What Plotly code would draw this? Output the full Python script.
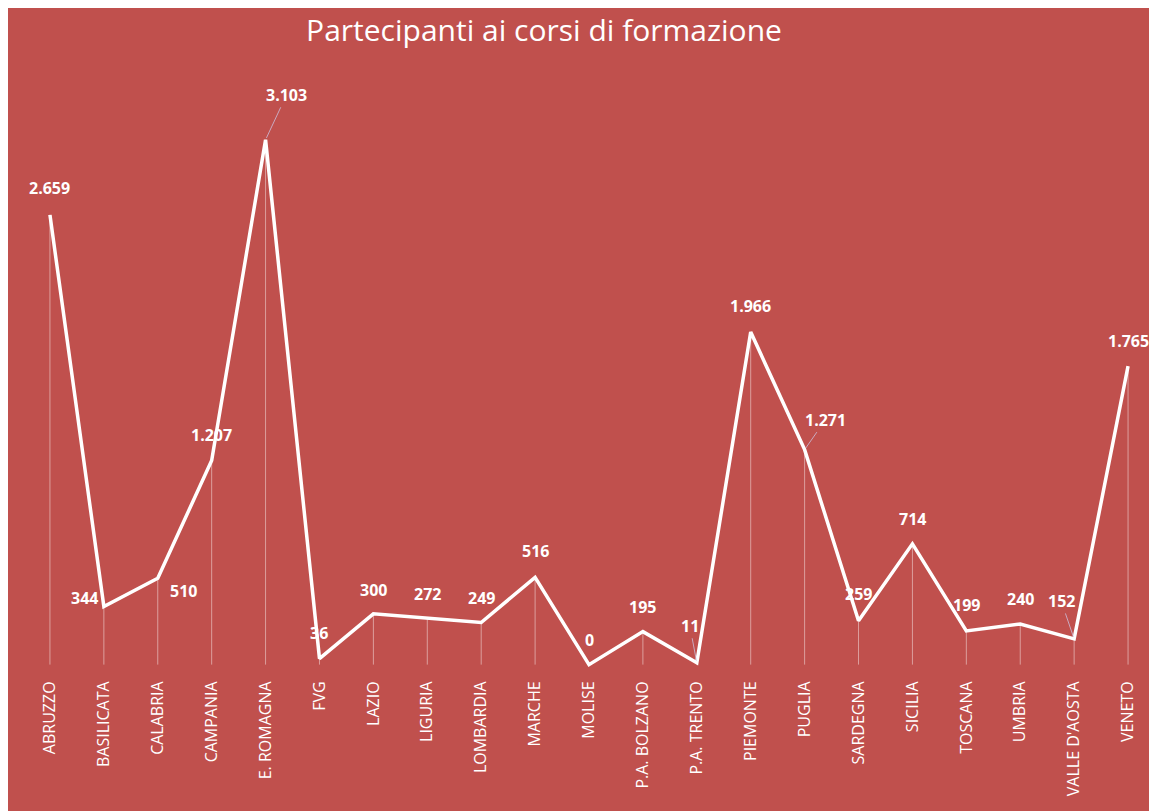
import plotly.graph_objects as go

regions = ["ABRUZZO", "BASILICATA", "CALABRIA", "CAMPANIA", "E. ROMAGNA", "FVG", "LAZIO",
           "LIGURIA", "LOMBARDIA", "MARCHE", "MOLISE", "P.A. BOLZANO", "P.A. TRENTO",
           "PIEMONTE", "PUGLIA", "SARDEGNA", "SICILIA", "TOSCANA", "UMBRIA",
           "VALLE D'AOSTA", "VENETO"]
partecipanti = [2659, 344, 510, 1207, 3103, 36, 300, 272, 249, 516, 0, 195, 11,
                1966, 1271, 259, 714, 199, 240, 152, 1765]
value_labels = ["2.659", "344", "510", "1.207", "3.103", "36", "300", "272", "249", "516",
                "0", "195", "11", "1.966", "1.271", "259", "714", "199", "240", "152", "1.765"]

# label offsets in pixels (dx, dy) and whether a leader line is drawn
label_offsets = [(0, -27), (-19, -8), (26, 13), (0, -25), (21, -45), (0, -26), (0, -24),
                 (0, -25), (0, -25), (0, -26), (0, -25), (0, -25), (-7, -37), (0, -26),
                 (21, -30), (0, -27), (0, -25), (0, -26), (0, -25), (-13, -38), (0, -25)]
leaders = [False, False, False, False, True, False, False, False, False, False, False,
           False, True, False, True, False, False, False, False, True, False]

BG = "#C0504D"

fig = go.Figure()
fig.add_trace(go.Scatter(
    x=regions, y=partecipanti, mode="lines",
    line=dict(color="white", width=3.5),
    error_y=dict(type="data", symmetric=False, array=[0] * len(partecipanti),
                 arrayminus=partecipanti, color="rgba(255,255,255,0.45)",
                 thickness=1, width=0),
    hoverinfo="x+y", showlegend=False,
))

for r, v, t, (dx, dy), lead in zip(regions, partecipanti, value_labels, label_offsets, leaders):
    if lead:
        fig.add_annotation(x=r, y=v, text=f"<b>{t}</b>", showarrow=True, ax=dx, ay=dy,
                           arrowhead=0, arrowwidth=1, arrowcolor="rgba(205,200,230,0.75)",
                           standoff=2, startstandoff=0,
                           font=dict(family="Open Sans", size=16, color="white"))
    else:
        fig.add_annotation(x=r, y=v, text=f"<b>{t}</b>", showarrow=False,
                           xshift=dx, yshift=-dy,
                           font=dict(family="Open Sans", size=16, color="white"))

fig.update_layout(
    width=1149, height=803,
    margin=dict(l=15, r=2, t=68, b=143),
    paper_bgcolor=BG, plot_bgcolor=BG,
    title=dict(text="Partecipanti ai corsi di formazione", x=0.4665, xanchor="center",
               y=0.9726, yanchor="middle",
               font=dict(family="Open Sans", size=30, color="white")),
    xaxis=dict(type="category", tickangle=-90, showgrid=False, showline=False,
               zeroline=False, ticks="outside", ticklen=6, tickcolor="rgba(0,0,0,0)",
               tickfont=dict(family="Open Sans", size=16, color="white"),
               range=[-0.5, len(regions) - 0.5]),
    yaxis=dict(visible=False, range=[-20, 3480]),
)

fig.write_html("out.html", post_script="document.body.style.overflow='hidden';")
